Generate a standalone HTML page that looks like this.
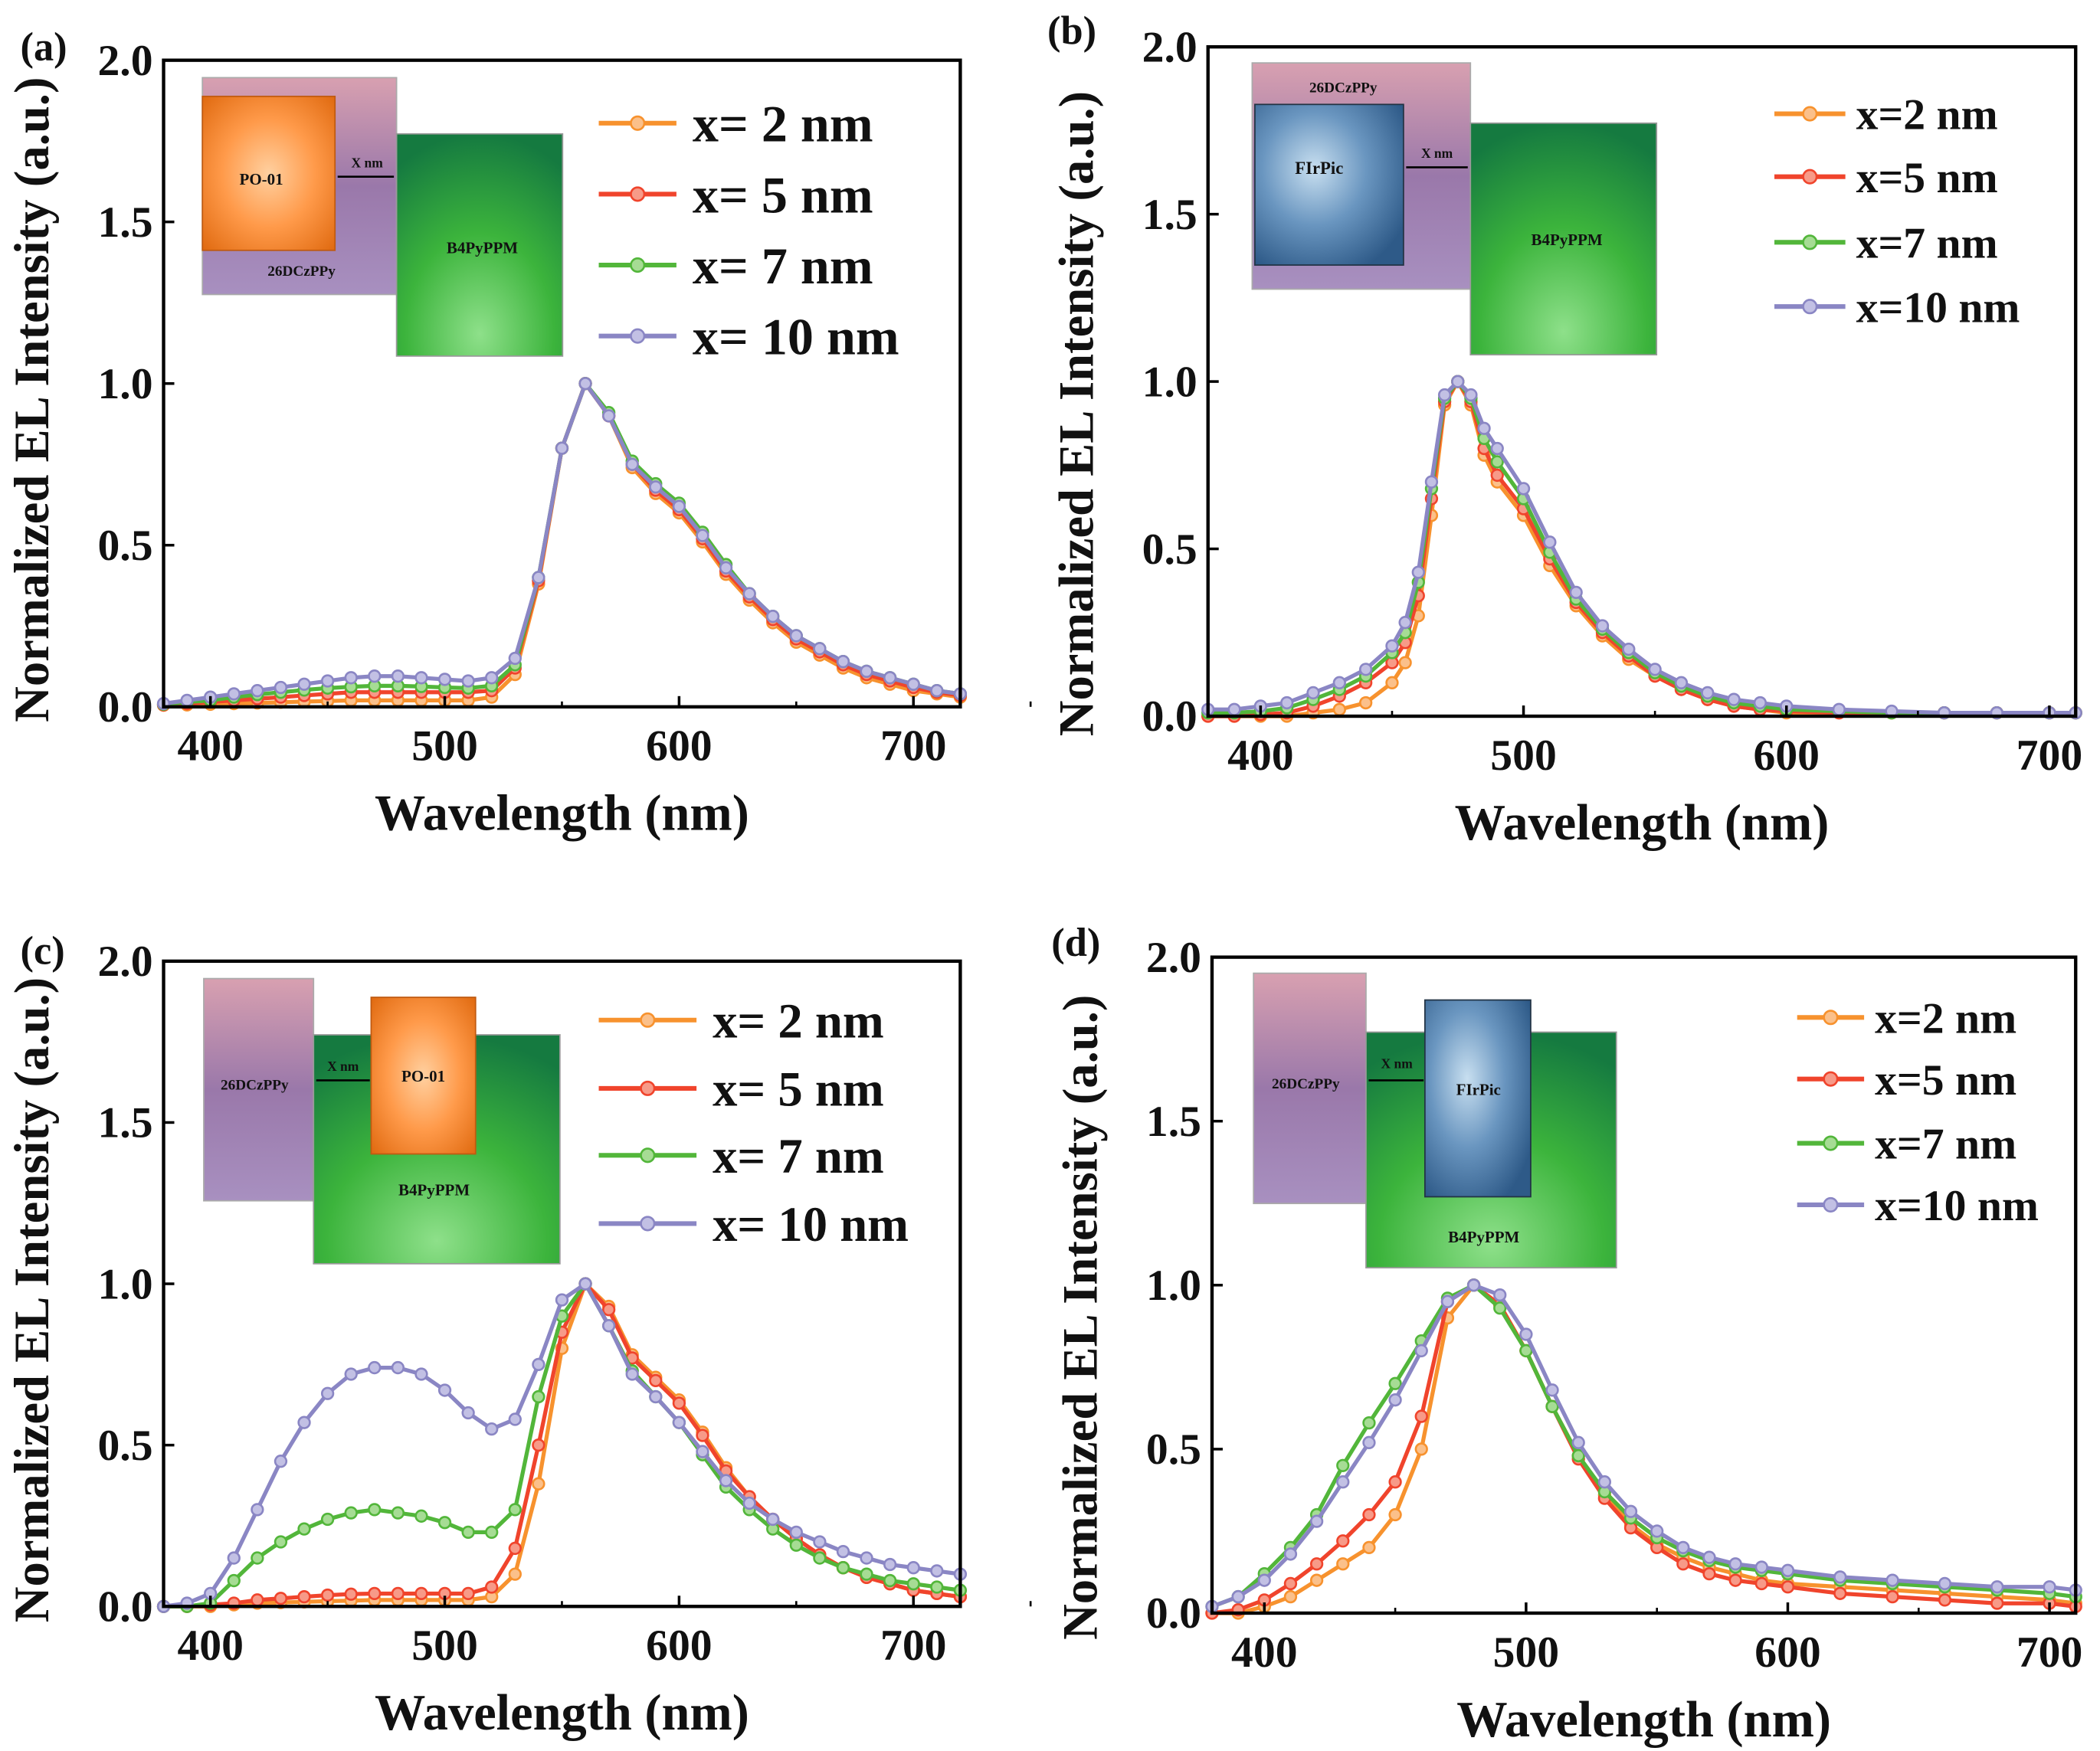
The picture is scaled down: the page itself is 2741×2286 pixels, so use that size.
<!DOCTYPE html>
<html><head><meta charset="utf-8"><style>
html,body{margin:0;padding:0;background:#fff}
svg{display:block}
text{font-family:"Liberation Serif",serif;font-weight:bold;fill:#111}
</style></head><body>
<svg id="fig" width="2741" height="2286" viewBox="0 0 1568 1308" xmlns="http://www.w3.org/2000/svg">
<defs>
<radialGradient id="gOr" cx="0.5" cy="0.5" r="0.7"><stop offset="0" stop-color="#ffd0a0"/><stop offset="0.5" stop-color="#ff9a4a"/><stop offset="1" stop-color="#e06a10"/></radialGradient>
<radialGradient id="gBl" cx="0.4" cy="0.4" r="0.7"><stop offset="0" stop-color="#c8dff0"/><stop offset="0.5" stop-color="#6a96c0"/><stop offset="1" stop-color="#2e5a88"/></radialGradient>
<radialGradient id="gGr" cx="0.5" cy="0.9" r="0.9"><stop offset="0" stop-color="#8ee08a"/><stop offset="0.5" stop-color="#3cb43c"/><stop offset="1" stop-color="#157a40"/></radialGradient>
<linearGradient id="gPu" x1="0" y1="0" x2="0" y2="1"><stop offset="0" stop-color="#d8a0b0"/><stop offset="0.5" stop-color="#9a78aa"/><stop offset="1" stop-color="#a890c0"/></linearGradient>
</defs>
<rect width="1568" height="1308" fill="#fff"/>
<g id="insets">
 <g>
  <rect x="151" y="58" width="145" height="162" fill="url(#gPu)" stroke="#aaa"/>
  <rect x="151" y="72" width="99" height="115" fill="url(#gOr)" stroke="#c05a10"/>
  <rect x="296" y="100" width="124" height="166" fill="url(#gGr)" stroke="#999"/>
  <line x1="252" y1="132" x2="294" y2="132" stroke="#000" stroke-width="1.5"/>
  <text x="274" y="125" font-size="10" text-anchor="middle">X nm</text>
  <text x="195" y="138" font-size="12" text-anchor="middle">PO-01</text>
  <text x="225" y="206" font-size="11" text-anchor="middle">26DCzPPy</text>
  <text x="360" y="189" font-size="12" text-anchor="middle">B4PyPPM</text>
 </g>
 <g>
  <rect x="935" y="47" width="163" height="169" fill="url(#gPu)" stroke="#aaa"/>
  <rect x="937" y="78" width="111" height="120" fill="url(#gBl)" stroke="#234"/>
  <rect x="1098" y="92" width="139" height="173" fill="url(#gGr)" stroke="#999"/>
  <line x1="1050" y1="125" x2="1096" y2="125" stroke="#000" stroke-width="1.5"/>
  <text x="1073" y="118" font-size="10" text-anchor="middle">X nm</text>
  <text x="1003" y="69" font-size="11" text-anchor="middle">26DCzPPy</text>
  <text x="985" y="130" font-size="13" text-anchor="middle">FIrPic</text>
  <text x="1170" y="183" font-size="12" text-anchor="middle">B4PyPPM</text>
 </g>
 <g>
  <rect x="152" y="731" width="82" height="166" fill="url(#gPu)" stroke="#aaa"/>
  <rect x="234" y="773" width="184" height="171" fill="url(#gGr)" stroke="#999"/>
  <rect x="277" y="745" width="78" height="117" fill="url(#gOr)" stroke="#c05a10"/>
  <line x1="236" y1="807" x2="276" y2="807" stroke="#000" stroke-width="1.5"/>
  <text x="256" y="800" font-size="10" text-anchor="middle">X nm</text>
  <text x="190" y="814" font-size="11" text-anchor="middle">26DCzPPy</text>
  <text x="316" y="808" font-size="12" text-anchor="middle">PO-01</text>
  <text x="324" y="893" font-size="12" text-anchor="middle">B4PyPPM</text>
 </g>
 <g>
  <rect x="936" y="727" width="84" height="172" fill="url(#gPu)" stroke="#aaa"/>
  <rect x="1020" y="771" width="187" height="176" fill="url(#gGr)" stroke="#999"/>
  <rect x="1064" y="747" width="79" height="147" fill="url(#gBl)" stroke="#234"/>
  <line x1="1022" y1="807" x2="1063" y2="807" stroke="#000" stroke-width="1.5"/>
  <text x="1043" y="798" font-size="10" text-anchor="middle">X nm</text>
  <text x="975" y="813" font-size="11" text-anchor="middle">26DCzPPy</text>
  <text x="1104" y="818" font-size="12" text-anchor="middle">FIrPic</text>
  <text x="1108" y="928" font-size="12" text-anchor="middle">B4PyPPM</text>
 </g>
</g>
</svg>
<script>
// ---- data ----
const wavesA = [380,390,400,410,420,430,440,450,460,470,480,490,500,510,520,530,540,550,560,570,580,590,600,610,620,630,640,650,660,670,680,690,700,710,720];
const a2  = [0.005,0.006,0.008,0.01,0.012,0.014,0.016,0.018,0.02,0.02,0.02,0.02,0.02,0.02,0.03,0.1,0.38,0.8,1.0,0.9,0.74,0.66,0.6,0.51,0.41,0.33,0.26,0.2,0.16,0.12,0.09,0.07,0.05,0.04,0.03];
const a5  = [0.006,0.01,0.015,0.02,0.025,0.03,0.035,0.04,0.045,0.045,0.045,0.045,0.045,0.045,0.05,0.12,0.39,0.8,1.0,0.9,0.75,0.67,0.61,0.52,0.42,0.34,0.27,0.21,0.17,0.13,0.1,0.08,0.06,0.045,0.035];
const a7  = [0.008,0.015,0.02,0.03,0.038,0.045,0.052,0.058,0.062,0.065,0.065,0.063,0.06,0.058,0.065,0.13,0.4,0.8,1.0,0.91,0.76,0.69,0.63,0.54,0.44,0.35,0.28,0.22,0.18,0.14,0.11,0.09,0.07,0.05,0.04];
const a10 = [0.01,0.02,0.03,0.04,0.05,0.06,0.07,0.08,0.09,0.095,0.095,0.09,0.085,0.08,0.09,0.15,0.4,0.8,1.0,0.9,0.75,0.68,0.62,0.53,0.43,0.35,0.28,0.22,0.18,0.14,0.11,0.09,0.07,0.05,0.04];

const wavesB = [380,390,400,410,420,430,440,450,455,460,465,470,475,480,485,490,500,510,520,530,540,550,560,570,580,590,600,620,640,660,680,700,710];
const b2  = [0,0,0,0,0.01,0.02,0.04,0.1,0.16,0.3,0.6,0.93,1.0,0.93,0.78,0.7,0.6,0.45,0.33,0.24,0.17,0.12,0.08,0.05,0.03,0.02,0.01,0.01,0.01,0.01,0.01,0.01,0.01];
const b5  = [0,0,0.005,0.01,0.03,0.06,0.1,0.16,0.22,0.36,0.65,0.94,1.0,0.94,0.8,0.72,0.62,0.47,0.34,0.25,0.18,0.12,0.08,0.05,0.03,0.02,0.015,0.01,0.01,0.01,0.01,0.01,0.01];
const b7  = [0.01,0.01,0.015,0.025,0.05,0.08,0.12,0.19,0.25,0.4,0.68,0.95,1.0,0.95,0.83,0.76,0.65,0.49,0.35,0.26,0.19,0.13,0.09,0.06,0.04,0.03,0.02,0.015,0.01,0.01,0.01,0.01,0.01];
const b10 = [0.02,0.02,0.03,0.04,0.07,0.1,0.14,0.21,0.28,0.43,0.7,0.96,1.0,0.96,0.86,0.8,0.68,0.52,0.37,0.27,0.2,0.14,0.1,0.07,0.05,0.04,0.03,0.02,0.015,0.01,0.01,0.01,0.01];

const wavesC = wavesA;
const c2  = [0,0,0,0.005,0.01,0.012,0.014,0.016,0.018,0.02,0.02,0.02,0.02,0.02,0.03,0.1,0.38,0.8,1.0,0.93,0.78,0.71,0.64,0.54,0.43,0.34,0.27,0.21,0.16,0.12,0.09,0.07,0.05,0.04,0.03];
const c5  = [0,0,0.005,0.01,0.02,0.025,0.03,0.035,0.038,0.04,0.04,0.04,0.04,0.04,0.06,0.18,0.5,0.85,1.0,0.92,0.77,0.7,0.63,0.53,0.42,0.34,0.27,0.21,0.16,0.12,0.09,0.07,0.05,0.04,0.03];
const c7  = [0,0,0.01,0.08,0.15,0.2,0.24,0.27,0.29,0.3,0.29,0.28,0.26,0.23,0.23,0.3,0.65,0.9,1.0,0.87,0.73,0.65,0.57,0.47,0.37,0.3,0.24,0.19,0.15,0.12,0.1,0.08,0.07,0.06,0.05];
const c10 = [0,0.01,0.04,0.15,0.3,0.45,0.57,0.66,0.72,0.74,0.74,0.72,0.67,0.6,0.55,0.58,0.75,0.95,1.0,0.87,0.72,0.65,0.57,0.48,0.39,0.32,0.27,0.23,0.2,0.17,0.15,0.13,0.12,0.11,0.1];

const wavesD = [380,390,400,410,420,430,440,450,460,470,480,490,500,510,520,530,540,550,560,570,580,590,600,620,640,660,680,700,710];
const d2  = [0,0,0.02,0.05,0.1,0.15,0.2,0.3,0.5,0.9,1.0,0.94,0.8,0.63,0.48,0.36,0.27,0.21,0.17,0.14,0.12,0.1,0.09,0.08,0.07,0.06,0.05,0.04,0.03];
const d5  = [0,0.01,0.04,0.09,0.15,0.22,0.3,0.4,0.6,0.95,1.0,0.94,0.8,0.63,0.47,0.35,0.26,0.2,0.15,0.12,0.1,0.09,0.08,0.06,0.05,0.04,0.03,0.03,0.02];
const d7  = [0.02,0.05,0.12,0.2,0.3,0.45,0.58,0.7,0.83,0.96,1.0,0.93,0.8,0.63,0.48,0.37,0.29,0.23,0.19,0.16,0.14,0.13,0.12,0.1,0.09,0.08,0.07,0.06,0.05];
const d10 = [0.02,0.05,0.1,0.18,0.28,0.4,0.52,0.65,0.8,0.95,1.0,0.97,0.85,0.68,0.52,0.4,0.31,0.25,0.2,0.17,0.15,0.14,0.13,0.11,0.1,0.09,0.08,0.08,0.07];

const xTicks = [400,500,600,700];
const yTicks = [0.0,0.5,1.0,1.5,2.0];
const labelsA = ["x= 2 nm","x= 5 nm","x= 7 nm","x= 10 nm"];
const labelsB = ["x=2 nm","x=5 nm","x=7 nm","x=10 nm"];
const colors = ["#f7922e","#f0442c","#52b63a","#8a86c4"];
const fills  = ["#fbc08a","#f79a88","#a6dc94","#c2c0e4"];

const panels = [
 {id:"a",x0:122,x1:717,y0:45,y1:528,xmin:380,xmax:720,waves:wavesA,series:[a2,a5,a7,a10],labels:labelsA,
  lg:{x:447,x2:505,tx:517,ys:[92,145,198,251],fs:39},lx:15,ly:45,tdy:12},
 {id:"b",x0:902,x1:1550,y0:35,y1:535,xmin:380,xmax:710,waves:wavesB,series:[b2,b5,b7,b10],labels:labelsB,
  lg:{x:1325,x2:1378,tx:1386,ys:[85,132,181,229],fs:33},lx:782,ly:33,tdy:24},
 {id:"c",x0:122,x1:717,y0:718,y1:1200,xmin:380,xmax:720,waves:wavesC,series:[c2,c5,c7,c10],labels:labelsA,
  lg:{x:447,x2:520,tx:532,ys:[762,813,863,914],fs:37},lx:15,ly:720,tdy:12},
 {id:"d",x0:905,x1:1550,y0:715,y1:1205,xmin:380,xmax:710,waves:wavesD,series:[d2,d5,d7,d10],labels:labelsB,
  lg:{x:1342,x2:1392,tx:1400,ys:[760,806,854,900],fs:33},lx:785,ly:714,tdy:24}
];

const NS="http://www.w3.org/2000/svg";
const svg=document.getElementById("fig");
const insets=document.getElementById("insets");
function mk(tag,attrs,parent){const e=document.createElementNS(NS,tag);for(const k in attrs)e.setAttribute(k,attrs[k]);(parent||svg).appendChild(e);return e;}

panels.forEach(p=>{
 const g=mk("g",{});
 
 
 svg.insertBefore(g,insets);
 const sx=v=>p.x0+(v-p.xmin)/(p.xmax-p.xmin)*(p.x1-p.x0);
 const sy=v=>p.y1-v/2.0*(p.y1-p.y0);
 p.series.forEach((s,i)=>{
  const sg=mk("g",{},g);
  
  
  const pts=p.waves.map((w,j)=>sx(w).toFixed(1)+","+sy(s[j]).toFixed(1)).join(" ");
  mk("polyline",{points:pts,fill:"none",stroke:colors[i],"stroke-width":3},sg);
  p.waves.forEach((w,j)=>{
   const c=mk("circle",{cx:sx(w),cy:sy(s[j]),r:4.2,fill:fills[i],stroke:colors[i],"stroke-width":1.5},sg);
   
   
  });
 });
 const fr=mk("rect",{x:p.x0,y:p.y0,width:p.x1-p.x0,height:p.y1-p.y0,fill:"none",stroke:"#000","stroke-width":2.5},g);
 
 
 xTicks.forEach(t=>{
  mk("line",{x1:sx(t),x2:sx(t),y1:p.y1,y2:p.y1-8,stroke:"#000","stroke-width":2},g);
  mk("line",{x1:sx(t+50),x2:sx(t+50),y1:p.y1,y2:p.y1-4,stroke:"#000","stroke-width":1.5},g);
  const tl=mk("text",{x:sx(t),y:p.y1+40,"font-size":33,"text-anchor":"middle"},g);
  tl.textContent=t;
  
  
 });
 yTicks.forEach(t=>{
  mk("line",{x1:p.x0,x2:p.x0+8,y1:sy(t),y2:sy(t),stroke:"#000","stroke-width":2},g);
  const tl=mk("text",{x:p.x0-8,y:sy(t)+11,"font-size":33,"text-anchor":"end"},g);
  tl.textContent=t.toFixed(1);
  
  
 });
 const xt=mk("text",{x:(p.x0+p.x1)/2,y:p.y1+92,"font-size":38,"text-anchor":"middle"},g);
 xt.textContent="Wavelength (nm)";
 
 
 const cy=(p.y0+p.y1)/2+p.tdy, cx=p.x0-86;
 const yt=mk("text",{x:cx,y:cy,"font-size":37,"text-anchor":"middle",transform:`rotate(-90 ${cx} ${cy})`},g);
 yt.textContent="Normalized EL Intensity (a.u.)";
 
 
 const pl=mk("text",{x:p.lx,y:p.ly,"font-size":30},g);
 pl.textContent="("+p.id+")";
 
 
 p.labels.forEach((l,i)=>{
  const y=p.lg.ys[i];
  const le=mk("g",{},g);
  
  
  mk("line",{x1:p.lg.x,x2:p.lg.x2,y1:y,y2:y,stroke:colors[i],"stroke-width":3.5},le);
  mk("circle",{cx:(p.lg.x+p.lg.x2)/2,cy:y,r:5,fill:fills[i],stroke:colors[i],"stroke-width":1.5},le);
  const t=mk("text",{x:p.lg.tx,y:y+p.lg.fs*0.35,"font-size":p.lg.fs},le);
  t.textContent=l;
 });
});
</script>
</body></html>
